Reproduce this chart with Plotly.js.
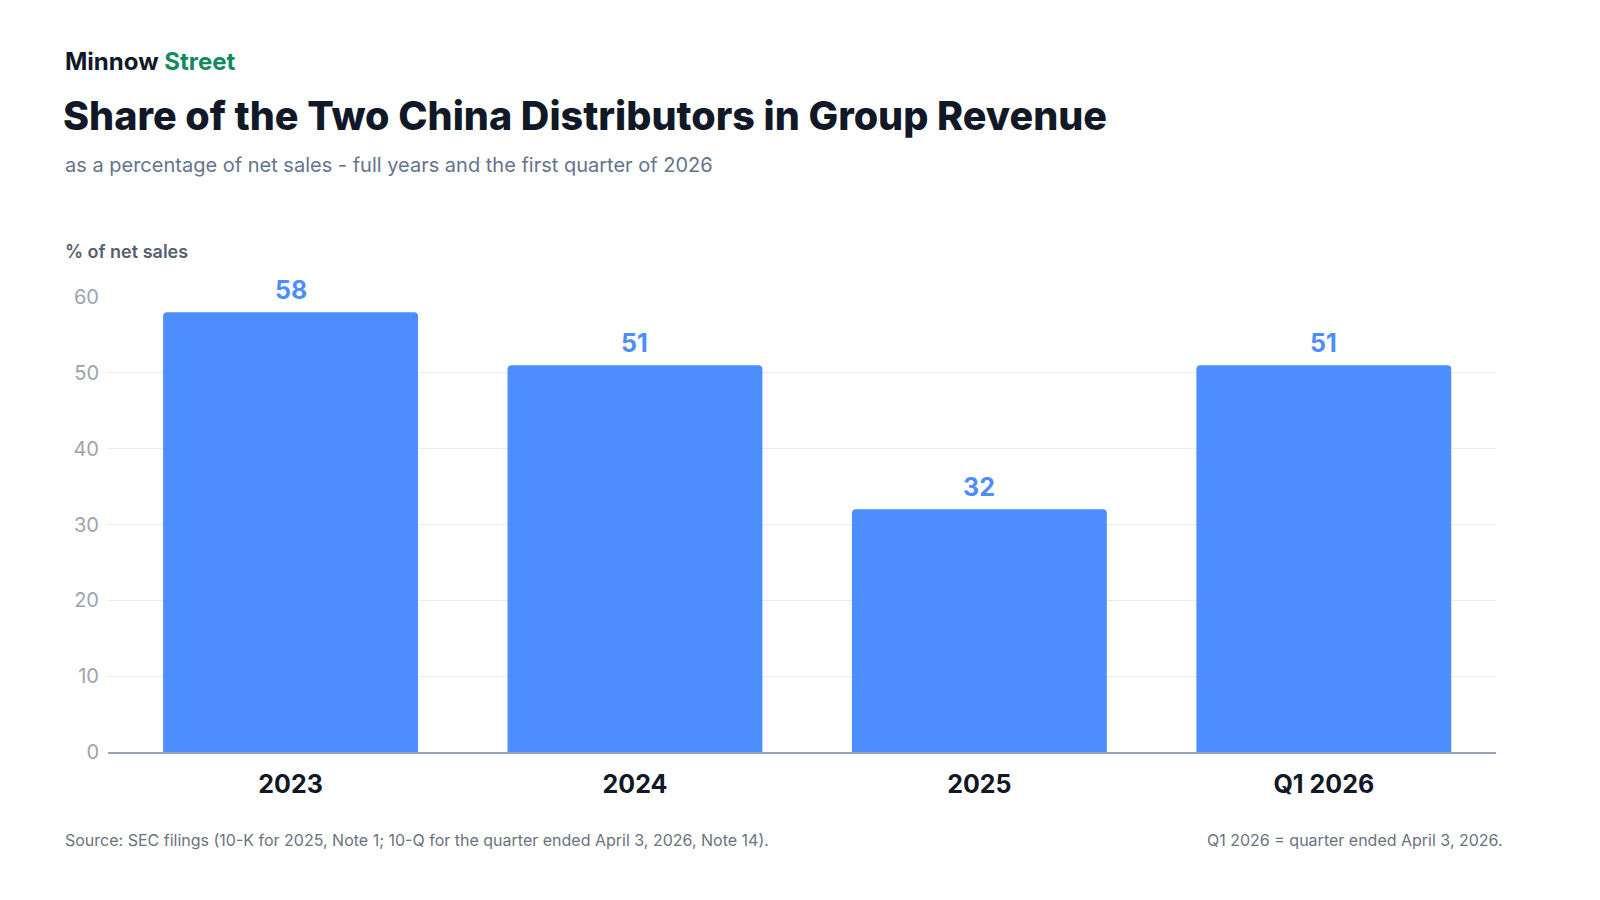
<!DOCTYPE html>
<html>
<head>
<meta charset="utf-8">
<script src="https://cdn.plot.ly/plotly-3.0.1.min.js"></script>
<style>
  html, body { margin: 0; padding: 0; background: #ffffff; }
  #chart { width: 1600px; height: 900px; }
</style>
</head>
<body>
<div id="chart"></div>
<script>
const categories = ["2023", "2024", "2025", "Q1 2026"];
const shareValues = [58, 51, 32, 51];
const yTickValues = [0, 10, 20, 30, 40, 50, 60];

const FONT = "Inter, 'Noto Sans', sans-serif";
const L = 108, R = 1496, T = 297, B = 752;
const W = R - L, H = B - T;
const px = x => (x - L) / W;
const py = y => (B - y) / H;

const trace = {
  type: "bar",
  x: categories,
  y: shareValues,
  marker: { color: "#4d8eff" },
  width: 0.74,
  hoverinfo: "x+y"
};

const labelAnnotations = categories.map((c, i) => ({
  x: i, y: shareValues[i], xref: "x", yref: "y",
  text: String(shareValues[i]),
  showarrow: false, yanchor: "bottom", yshift: 5,
  font: { family: FONT, size: 25, color: "#4d8eff", weight: 700 }
}));

const textAnnotations = [
  { text: "Minnow <span style='color:#138a5e'>Street</span>", x: px(63), y: py(61),
    font: { family: FONT, size: 24, color: "#111827", weight: 700 } },
  { text: "Share of the Two China Distributors in Group Revenue", x: px(61), y: py(116),
    font: { family: FONT, size: 39.5, color: "#111827", weight: 800 } },
  { text: "as a percentage of net sales - full years and the first quarter of 2026", x: px(63), y: py(165),
    font: { family: FONT, size: 20, color: "#64748b", weight: 400 } },
  { text: "% of net sales", x: px(63), y: py(252),
    font: { family: FONT, size: 18, color: "#556070", weight: 600 } },
  { text: "Source: SEC filings (10-K for 2025, Note 1; 10-Q for the quarter ended April 3, 2026, Note 14).", x: px(63), y: py(840),
    font: { family: FONT, size: 16, color: "#6b7280", weight: 400 } },
  { text: "Q1 2026 = quarter ended April 3, 2026.", x: px(1505), y: py(840), xanchor: "right",
    font: { family: FONT, size: 16, color: "#6b7280", weight: 400 } }
].map(a => Object.assign({ xref: "paper", yref: "paper", showarrow: false, xanchor: "left", yanchor: "middle" }, a));

const layout = {
  width: 1600, height: 900,
  paper_bgcolor: "#ffffff", plot_bgcolor: "#ffffff",
  margin: { l: L, r: 1600 - R, t: T, b: 900 - B, pad: 0 },
  showlegend: false,
  barcornerradius: 4,
  font: { family: FONT },
  xaxis: {
    type: "category",
    range: [-0.53, 3.5],
    showgrid: false,
    showline: true, linecolor: "#94a3b8", linewidth: 1.5,
    ticks: "", ticklabelstandoff: 9,
    tickfont: { family: FONT, size: 25, color: "#111827", weight: 700 },
    fixedrange: true
  },
  yaxis: {
    range: [0, 60],
    tickvals: yTickValues,
    showgrid: true, gridcolor: "#e8eaef", gridwidth: 1,
    zeroline: false, showline: false,
    ticks: "", ticklabelstandoff: 8,
    tickfont: { family: FONT, size: 20, color: "#9ca3af" },
    fixedrange: true
  },
  annotations: labelAnnotations.concat(textAnnotations)
};

Plotly.newPlot("chart", [trace], layout, { displayModeBar: false, staticPlot: true });
</script>
</body>
</html>
